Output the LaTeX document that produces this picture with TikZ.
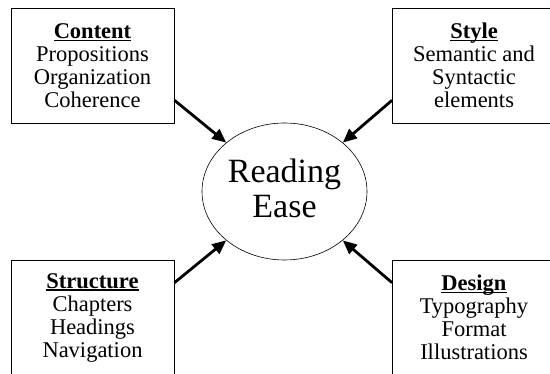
\documentclass[tikz,border=0pt]{standalone}
\usepackage{fontspec}
\setmainfont{Liberation Serif}
\usetikzlibrary{arrows.meta,shapes.geometric,shadows}
\newcommand{\headword}[1]{\setbox0\hbox{\textbf{#1}}\rlap{\rule[-2.6pt]{\wd0}{1.2pt}}\box0}
\begin{document}
\begin{tikzpicture}[x=1pt,y=1pt,
        factor/.style={draw,line width=0.9pt,fill=white,
            drop shadow={shadow xshift=1pt,shadow yshift=-1pt,fill=gray!80},
            minimum width=163pt,minimum height=115pt,inner sep=0pt,
            align=center,font=\fontsize{22.5}{23}\selectfont},
        goal/.style={draw,ellipse,line width=0.6pt,minimum width=165pt,
            minimum height=137pt,inner sep=0pt,align=center,text depth=6pt,
            font=\fontsize{34}{35}\selectfont},
        push/.style={line width=2.8pt,-{Triangle[length=14pt,width=12pt]}}]
        \useasboundingbox (0,0) rectangle (550,374);

        \node[goal] (ease) at (284.5,182.5) {Reading\\Ease};

        \node[factor] (content) at (92.5,308.5)
            {\headword{Content}\\Propositions\\Organization\\Coherence};
        \node[factor] (style) at (474,308.5)
            {\headword{Style}\\Semantic and\\Syntactic\\elements};
        \node[factor] (structure) at (92.5,56.5)
            {\headword{Structure}\\Chapters\\Headings\\Navigation};
        \node[factor] (design) at (474,56.5)
            {\headword{Design}\\Typography\\Format\\Illustrations};

        \draw[push] (content.-23) -- (ease.140);
        \draw[push] (style.203) -- (ease.40);
        \draw[push] (structure.23) -- (ease.220);
        \draw[push] (design.157) -- (ease.320);
    \end{tikzpicture}
\end{document}
